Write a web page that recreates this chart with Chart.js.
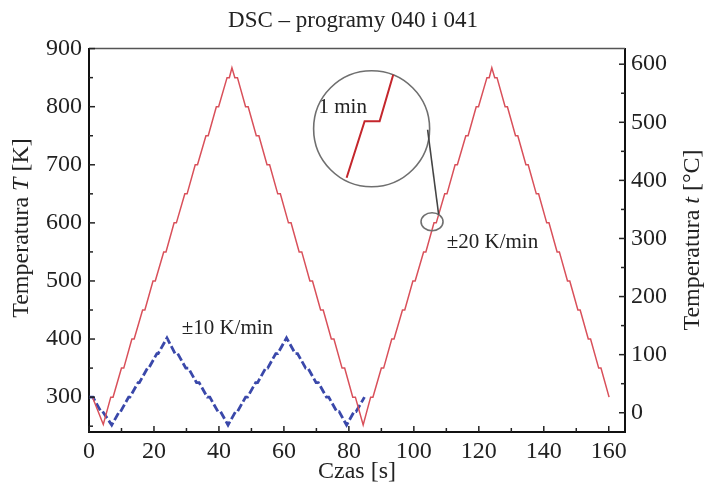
<!DOCTYPE html>
<html>
<head>
<meta charset="utf-8">
<script src="https://cdn.jsdelivr.net/npm/chart.js@4.4.1/dist/chart.umd.min.js"></script>
<style>
  body { margin: 0; background: #fff; }
  #wrap { width: 706px; height: 487px; }
</style>
</head>
<body>
<div id="wrap"><canvas id="dscChart" width="706" height="487"></canvas></div>
<script>
// program 041, +-20 K/min, stepped (red)
const redTime = [1.2, 4.4, 6.7, 7.4, 10.0, 10.7, 13.2, 13.9, 16.5, 17.2, 19.7, 20.4, 23.0, 23.7, 26.2, 26.9,
  29.5, 30.2, 32.7, 33.4, 36.0, 36.7, 39.2, 39.9, 42.5, 43.2, 44.0,
  44.9, 45.7, 48.2, 49.0, 51.5, 52.3, 54.8, 55.6, 58.1, 58.9, 61.4, 62.2, 64.7, 65.5, 68.0, 68.8,
  71.3, 72.1, 74.6, 75.4, 77.9, 78.7, 81.2, 82.0, 84.4,
  86.7, 87.4, 90.0, 90.7, 93.2, 93.9, 96.5, 97.2, 99.7, 100.4, 103.0, 103.7, 106.2, 106.9,
  109.5, 110.2, 112.7, 113.4, 116.0, 116.7, 119.2, 119.9, 122.5, 123.2, 124.0,
  124.9, 125.6, 128.1, 128.8, 131.3, 132.0, 134.5, 135.2, 137.7, 138.4, 140.9, 141.6,
  144.1, 144.8, 147.3, 148.0, 150.5, 151.2, 153.7, 154.4, 156.9, 157.6, 160.1];
const redTemp = [298, 253, 300, 300, 350, 350, 400, 400, 450, 450, 500, 500, 550, 550, 600, 600,
  650, 650, 700, 700, 750, 750, 800, 800, 850, 850, 867,
  850, 850, 800, 800, 750, 750, 700, 700, 650, 650, 600, 600, 550, 550, 500, 500,
  450, 450, 400, 400, 350, 350, 300, 300, 252,
  300, 300, 350, 350, 400, 400, 450, 450, 500, 500, 550, 550, 600, 600,
  650, 650, 700, 700, 750, 750, 800, 800, 850, 850, 867,
  850, 850, 800, 800, 750, 750, 700, 700, 650, 650, 600, 600,
  550, 550, 500, 500, 450, 450, 400, 400, 350, 350, 300];

// program 040, +-10 K/min (blue, dashed)
const blueTime = [0, 1.2, 3.5, 4.0, 7.0,
  9.3, 9.7, 12.2, 12.6, 15.1, 15.5, 18.0, 18.4, 20.9, 21.3, 24.0,
  26.5, 27.3, 29.8, 30.6, 33.1, 33.9, 36.4, 37.2, 39.7, 40.5, 42.8,
  45.1, 45.7, 48.2, 48.8, 51.3, 51.9, 54.4, 55.0, 57.5, 58.1, 60.8,
  63.5, 64.2, 66.7, 67.4, 69.9, 70.6, 73.1, 73.8, 76.3, 77.0, 79.3,
  81.6, 82.2, 84.8];
const blueTemp = [300, 300, 277, 277, 252,
  275, 275, 300, 300, 325, 325, 350, 350, 375, 375, 402,
  375, 375, 350, 350, 325, 325, 300, 300, 275, 275, 252,
  275, 275, 300, 300, 325, 325, 350, 350, 375, 375, 402,
  375, 375, 350, 350, 325, 325, 300, 300, 275, 275, 252,
  275, 275, 300];

const xTicks = [0, 20, 40, 60, 80, 100, 120, 140, 160];
const xMinor = [10, 30, 50, 70, 90, 110, 130, 150];
const kTicks = [300, 400, 500, 600, 700, 800, 900];
const kMinor = [250, 350, 450, 550, 650, 750, 850];
const cTicks = [0, 100, 200, 300, 400, 500, 600];
const cMinor = [50, 150, 250, 350, 450, 550];

const K0 = 273.15;
const kMin = 240, kMax = 900;

const serif = '"Liberation Serif", "DejaVu Serif", serif';

// text labels and the zoom circle, placed in data units
const notes = [
  {text: '±10 K/min', x: 42.6, y: 419},
  {text: '±20 K/min', x: 124.2, y: 566},
  {text: '1 min', x: 78.1, y: 799}
];
const bigCircle = {x: 87.0, y: 762, r: 58};
const spotCircle = {x: 105.6, y: 602, rx: 11, ry: 9};

function toPoints(xs, ys) {
  return xs.map((x, i) => ({x: x, y: ys[i]}));
}

const decor = {
  id: 'decor',
  afterDraw(chart) {
    const ctx = chart.ctx;
    const a = chart.chartArea;
    const sx = chart.scales.x, sy = chart.scales.y, sy2 = chart.scales.y2;
    ctx.save();

    // top frame line
    ctx.strokeStyle = '#555';
    ctx.lineWidth = 1.5;
    ctx.beginPath();
    ctx.moveTo(a.left, a.top);
    ctx.lineTo(a.right, a.top);
    ctx.stroke();

    // inward tick marks
    ctx.strokeStyle = '#222';
    ctx.lineWidth = 1.5;
    const tick = (x1, y1, x2, y2) => { ctx.beginPath(); ctx.moveTo(x1, y1); ctx.lineTo(x2, y2); ctx.stroke(); };
    xTicks.forEach(v => { const p = sx.getPixelForValue(v); tick(p, a.bottom, p, a.bottom - 6); });
    xMinor.forEach(v => { const p = sx.getPixelForValue(v); tick(p, a.bottom, p, a.bottom - 4); });
    kTicks.forEach(v => { const p = sy.getPixelForValue(v); tick(a.left, p, a.left + 6, p); });
    kMinor.forEach(v => { const p = sy.getPixelForValue(v); tick(a.left, p, a.left + 4, p); });
    cTicks.forEach(v => { const p = sy2.getPixelForValue(v); tick(a.right, p, a.right - 6, p); });
    cMinor.forEach(v => { const p = sy2.getPixelForValue(v); tick(a.right, p, a.right - 4, p); });

    // axis titles
    ctx.fillStyle = '#222';
    ctx.textBaseline = 'middle';
    ctx.textAlign = 'center';
    ctx.font = '24px ' + serif;
    ctx.fillText('Czas [s]', (a.left + a.right) / 2, 472);

    const vertTitle = (cx, cy, parts) => {
      ctx.save();
      ctx.translate(cx, cy);
      ctx.rotate(-Math.PI / 2);
      let total = 0;
      parts.forEach(p => { ctx.font = p[1] + '24px ' + serif; total += ctx.measureText(p[0]).width; });
      let x = -total / 2;
      ctx.textAlign = 'left';
      parts.forEach(p => {
        ctx.font = p[1] + '24px ' + serif;
        ctx.fillText(p[0], x, 0);
        x += ctx.measureText(p[0]).width;
      });
      ctx.restore();
    };
    vertTitle(22, 228, [['Temperatura ', ''], ['T', 'italic '], [' [K]', '']]);
    vertTitle(693, 240, [['Temperatura ', ''], ['t', 'italic '], [' [°C]', '']]);

    // annotation texts
    ctx.font = '21px ' + serif;
    ctx.textAlign = 'center';
    notes.forEach(n => ctx.fillText(n.text, sx.getPixelForValue(n.x), sy.getPixelForValue(n.y)));

    // magnifier circle + connector
    const bx = sx.getPixelForValue(bigCircle.x), by = sy.getPixelForValue(bigCircle.y);
    const qx = sx.getPixelForValue(spotCircle.x), qy = sy.getPixelForValue(spotCircle.y);
    ctx.strokeStyle = '#6f6f6f';
    ctx.lineWidth = 1.6;
    ctx.beginPath();
    ctx.arc(bx, by, bigCircle.r, 0, Math.PI * 2);
    ctx.stroke();
    ctx.beginPath();
    ctx.ellipse(qx, qy, spotCircle.rx, spotCircle.ry, 0, 0, Math.PI * 2);
    ctx.stroke();
    ctx.strokeStyle = '#444';
    ctx.beginPath();
    ctx.moveTo(bx + bigCircle.r - 2, by + 1);
    ctx.lineTo(qx + spotCircle.rx * 0.6, qy - spotCircle.ry * 0.8);
    ctx.stroke();

    // zoomed step inside the circle
    ctx.strokeStyle = '#c4262c';
    ctx.lineWidth = 2;
    ctx.beginPath();
    ctx.moveTo(bx - 25, by + 49);
    ctx.lineTo(bx - 7, by - 7.5);
    ctx.lineTo(bx + 8, by - 7.5);
    ctx.lineTo(bx + 21.6, by - 54);
    ctx.stroke();

    ctx.restore();
  }
};

const tickFont = {family: serif, size: 24};

new Chart('dscChart', {
  type: 'line',
  data: {
    datasets: [
      {
        label: '±20 K/min',
        data: toPoints(redTime, redTemp),
        borderColor: '#d9505a',
        borderWidth: 1.5,
        pointRadius: 0,
        tension: 0
      },
      {
        label: '±10 K/min',
        data: toPoints(blueTime, blueTemp),
        borderColor: '#3a48aa',
        borderWidth: 2.8,
        borderDash: [8, 3],
        pointRadius: 0,
        tension: 0
      }
    ]
  },
  options: {
    responsive: false,
    animation: false,
    devicePixelRatio: 1,
    layout: {padding: 0},
    plugins: {
      legend: {display: false},
      tooltip: {enabled: false},
      title: {
        display: true,
        text: 'DSC – programy 040 i 041',
        color: '#222',
        font: {family: serif, size: 23, weight: 'normal'},
        padding: {top: 7, bottom: 14}
      }
    },
    scales: {
      x: {
        type: 'linear',
        min: 0,
        max: 165,
        grid: {display: false, drawTicks: false},
        border: {display: true, color: '#111', width: 2},
        afterBuildTicks: s => { s.ticks = xTicks.map(v => ({value: v})); },
        afterFit: s => { s.height = 55; },
        ticks: {font: tickFont, color: '#222', padding: 5, maxRotation: 0, autoSkip: false}
      },
      y: {
        position: 'left',
        min: kMin,
        max: kMax,
        grid: {display: false, drawTicks: false},
        border: {display: true, color: '#111', width: 2},
        afterBuildTicks: s => { s.ticks = kTicks.map(v => ({value: v})); },
        afterFit: s => { s.width = 89; },
        ticks: {font: tickFont, color: '#222', padding: 7}
      },
      y2: {
        position: 'right',
        min: kMin - K0,
        max: kMax - K0,
        grid: {display: false, drawTicks: false},
        border: {display: true, color: '#111', width: 2},
        afterBuildTicks: s => { s.ticks = cTicks.map(v => ({value: v})); },
        afterFit: s => { s.width = 81; },
        ticks: {font: tickFont, color: '#222', padding: 6}
      }
    }
  },
  plugins: [decor]
});
</script>
</body>
</html>
